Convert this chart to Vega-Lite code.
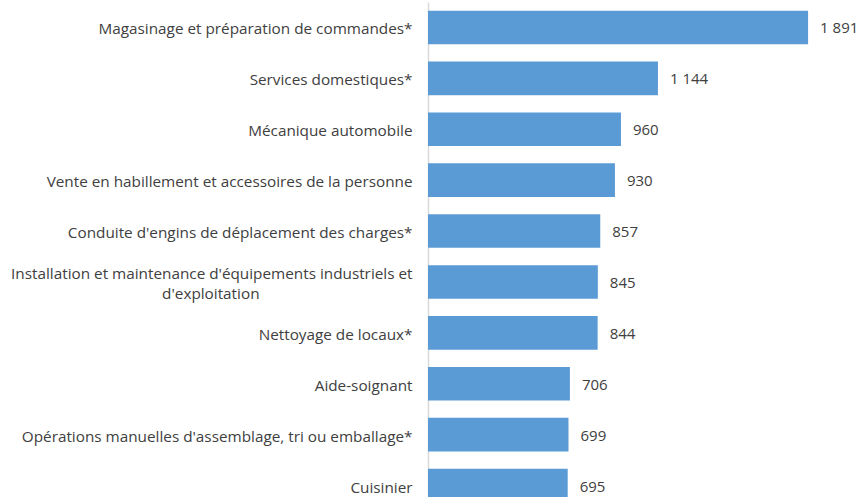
{
  "$schema": "https://vega.github.io/schema/vega-lite/v6.json",
  "width": 402,
  "height": 509,
  "autosize": {"type": "none"},
  "padding": {"left": 428, "top": 2, "right": 31, "bottom": 0},
  "config": {
    "view": {"stroke": null},
    "locale": {"number": {"decimal": ",", "thousands": " ", "grouping": [3], "currency": ["", " €"]}},
    "font": "Open Sans"
  },
  "data": {
    "values": [
      {"metier": "Magasinage et préparation de commandes*", "valeur": 1891},
      {"metier": "Services domestiques*", "valeur": 1144},
      {"metier": "Mécanique automobile", "valeur": 960},
      {"metier": "Vente en habillement et accessoires de la personne", "valeur": 930},
      {"metier": "Conduite d'engins de déplacement des charges*", "valeur": 857},
      {"metier": "Installation et maintenance d'équipements industriels et d'exploitation", "valeur": 845},
      {"metier": "Nettoyage de locaux*", "valeur": 844},
      {"metier": "Aide-soignant", "valeur": 706},
      {"metier": "Opérations manuelles d'assemblage, tri ou emballage*", "valeur": 699},
      {"metier": "Cuisinier", "valeur": 695}
    ]
  },
  "encoding": {
    "y": {
      "field": "metier",
      "type": "nominal",
      "sort": null,
      "scale": {"paddingInner": 0.34, "paddingOuter": 0.17},
      "axis": {
        "title": null,
        "ticks": false,
        "domainColor": "#d9d9d9",
        "domainWidth": 1.5,
        "labelPadding": 16,
        "labelLimit": 500,
        "labelFontSize": 15.3,
        "labelColor": "#404040",
        "labelFont": "Open Sans",
        "labelLineHeight": 20,
        "labelOffset": {"condition": {"test": "indexof(datum.value, 'Installation') == 0", "value": -8}, "value": 2},
        "labelExpr": "indexof(datum.value, 'Installation') == 0 ? [substring(datum.value, 0, 56), substring(datum.value, 57) + '\u2002\u2002\u2002\u2002\u2002\u2002\u2002\u2002\u2002\u2002\u2002\u2002\u2002\u2002\u2002\u2002\u2002\u2002\u2002\u2002\u200b'] : datum.value"
      }
    },
    "x": {
      "field": "valeur",
      "type": "quantitative",
      "scale": {"domain": [0, 2000], "nice": false},
      "axis": null
    }
  },
  "layer": [
    {"mark": {"type": "bar", "color": "#5B9BD5"}},
    {
      "mark": {"type": "text", "align": "left", "baseline": "middle", "dx": 12, "dy": 1, "fontSize": 15, "color": "#404040", "font": "Open Sans"},
      "encoding": {"text": {"field": "valeur", "type": "quantitative", "format": ",d"}}
    }
  ]
}
